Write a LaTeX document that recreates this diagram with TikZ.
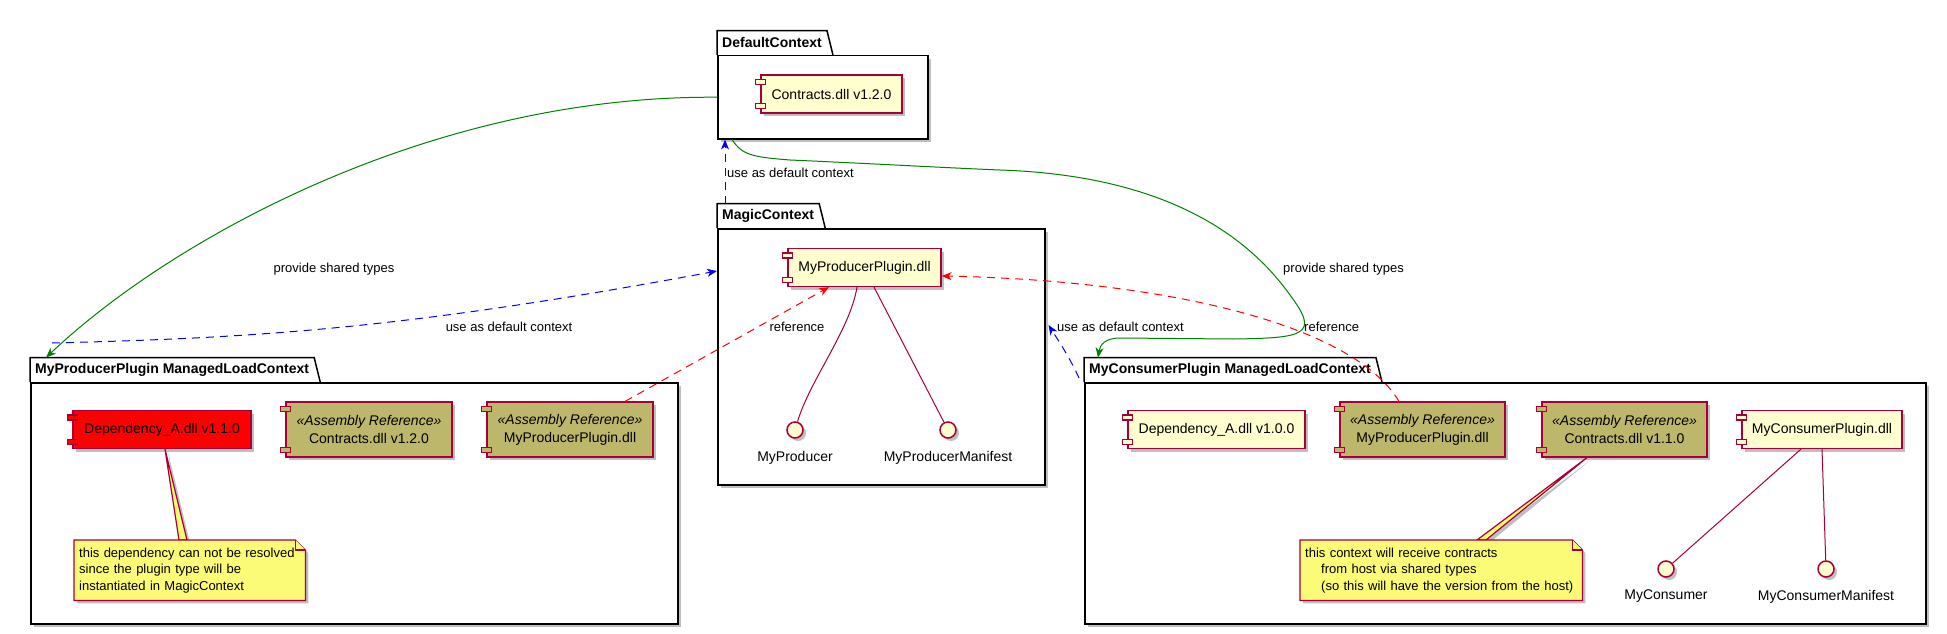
\documentclass[tikz,border=0pt]{standalone}
\usepackage{fontspec}
\setmainfont{Liberation Sans}
\usepackage{tikz}
\usetikzlibrary{arrows.meta,calc,positioning,shadows}
\definecolor{UMLred}{HTML}{A80036}
\definecolor{UMLfill}{HTML}{FEFECE}
\definecolor{ARkhaki}{HTML}{BDB76B}
\definecolor{NOTEyellow}{HTML}{FBFB77}
\definecolor{LINKgreen}{HTML}{008000}
\pgfdeclarelayer{front}
\pgfsetlayers{main,front}

\begin{document}
\begin{tikzpicture}[x=1pt,y=-1pt,>={Stealth[length=10pt,width=8pt,inset=3pt]},
  shadowed/.style={drop shadow={shadow xshift=3pt,shadow yshift=-3pt,opacity=0.25,fill=black}},
  pkg/.style={draw,line width=1.5pt,fill=white,anchor=north west,inner sep=0pt,shadowed},
  pkgtab/.style={anchor=south west,font=\bfseries\fontsize{14}{17}\selectfont,inner xsep=5pt,inner ysep=0pt,minimum height=24pt},
  comp/.style={draw=UMLred,fill=UMLfill,line width=1.2pt,minimum height=38pt,inner sep=0pt,font=\fontsize{14}{17}\selectfont,shadowed},
  asmref/.style={comp,fill=ARkhaki,minimum height=55pt,align=center,font=\fontsize{14}{18}\selectfont},
  port/.style={draw=UMLred,line width=1.2pt},
  iface/.style={circle,draw=UMLred,fill=UMLfill,line width=1.5pt,minimum size=16pt,inner sep=0pt,shadowed},
  ifacelbl/.style={font=\fontsize{14}{17}\selectfont,inner sep=0pt},
  note/.style={anchor=north west,align=left,inner xsep=5pt,minimum height=60pt,font=\fontsize{13}{16.5}\selectfont},
  notebox/.style={draw=UMLred,fill=NOTEyellow,line width=1.2pt},
  wire/.style={UMLred,line width=1pt},
  provide/.style={->,LINKgreen,line width=1pt},
  usectx/.style={->,blue,line width=1pt,dash pattern=on 8pt off 6pt},
  refline/.style={->,red,line width=1pt,dash pattern=on 8pt off 6pt},
  lbl/.style={font=\fontsize{13}{15}\selectfont,inner sep=0pt}]
  \useasboundingbox (0,0) rectangle (1947,634);

  \node[pkg,minimum width=210pt,minimum height=83pt] (pdef) at (717,55) {};
  \node[pkg,minimum width=327pt,minimum height=256pt] (pmagic) at (717,228) {};
  \node[pkg,minimum width=647pt,minimum height=241pt] (pprod) at (30,382) {};
  \node[pkg,minimum width=841pt,minimum height=241pt] (pcons) at (1084,382) {};
  \node[pkgtab] (pdef-tab) at (pdef.north west) {DefaultContext};
  \node[pkgtab] (pmagic-tab) at (pmagic.north west) {MagicContext};
  \node[pkgtab] (pprod-tab) at (pprod.north west) {MyProducerPlugin ManagedLoadContext};
  \node[pkgtab] (pcons-tab) at (pcons.north west) {MyConsumerPlugin ManagedLoadContext};
  \foreach \p in {pdef,pmagic,pprod,pcons}
    \draw[line width=1.5pt] (\p-tab.south west) |- (\p-tab.north east) -- ([xshift=6pt]\p-tab.south east);

  \node[comp,minimum width=141pt] (cdef) at (831.5,94) {Contracts.dll v1.2.0};
  \node[comp,minimum width=153pt] (cmpp) at (864.5,267.5) {MyProducerPlugin.dll};
  \node[comp,fill=red,minimum width=178pt] (depa) at (162,429.5) {Dependency\_A.dll v1.1.0};
  \node[asmref,minimum width=166pt] (arp1) at (369,429.5) {\textit{«Assembly Reference»}\\Contracts.dll v1.2.0};
  \node[asmref,minimum width=166pt] (arp2) at (570,429.5) {\textit{«Assembly Reference»}\\MyProducerPlugin.dll};
  \node[comp,minimum width=177pt] (depb) at (1216.5,429.5) {Dependency\_A.dll v1.0.0};
  \node[asmref,minimum width=165pt] (arc1) at (1422.5,429.5) {\textit{«Assembly Reference»}\\MyProducerPlugin.dll};
  \node[asmref,minimum width=165pt] (arc2) at (1624.5,429.5) {\textit{«Assembly Reference»}\\Contracts.dll v1.1.0};
  \node[comp,minimum width=160pt] (ccp) at (1822,429.5) {MyConsumerPlugin.dll};
  \foreach \c/\f in {cdef/UMLfill,cmpp/UMLfill,depa/red,arp1/ARkhaki,arp2/ARkhaki,depb/UMLfill,arc1/ARkhaki,arc2/ARkhaki,ccp/UMLfill}{
    \draw[port,fill=\f] ([shift={(-5pt,-5pt)}]\c.north west) rectangle ++(10,5);
    \draw[port,fill=\f] ([shift={(-5pt,5pt)}]\c.south west) rectangle ++(10,-5);
  }

  \node[iface] (iprod) at (795,430) {};
  \node[iface] (iman) at (948,430) {};
  \node[iface] (icons) at (1666,569) {};
  \node[iface] (icman) at (1826,569) {};
  \node[ifacelbl,below=12pt of iprod] (iprod-lbl) {MyProducer};
  \node[ifacelbl,below=12pt of iman] (iman-lbl) {MyProducerManifest};
  \node[ifacelbl,below=12pt of icons] (icons-lbl) {MyConsumer};
  \node[ifacelbl,below=12pt of icman] (icman-lbl) {MyConsumerManifest};
  \draw[wire] ([xshift=-7.5pt]cmpp.south) .. controls (850,330) and (810,380) .. (iprod);
  \draw[wire] ([xshift=9.5pt]cmpp.south) -- (iman);
  \draw[wire] ([xshift=-21pt]ccp.south) -- (icons);
  \draw[wire] (ccp.south) -- (icman);

  \begin{pgfonlayer}{front}
    \node[note,text width=221pt] (note1) at (74,540) {this dependency can not be resolved\\since the plugin type will be\\instantiated in MagicContext};
    \node[note,text width=272pt] (note2) at (1300,540) {this context will receive contracts\\\hspace*{16pt}from host via shared types\\\hspace*{16pt}(so this will have the version from the host)};
  \end{pgfonlayer}
  \draw[notebox,shadowed] ([xshift=3pt]depa.south) -- ([xshift=105pt]note1.north west) -- ([xshift=113pt]note1.north west) -- cycle;
  \draw[notebox,shadowed] ([xshift=-37.5pt]arc2.south) -- ([xshift=177pt]note2.north west) -- ([xshift=186pt]note2.north west) -- cycle;
  \foreach \n in {note1,note2}{
    \draw[notebox,shadowed] (\n.north west) -- ([xshift=-10pt]\n.north east) -- ([yshift=-10pt]\n.north east) -- (\n.south east) -- (\n.south west) -- cycle;
    \draw[notebox] ([xshift=-10pt]\n.north east) |- ([yshift=-10pt]\n.north east);
  }

  \coordinate (pprod-out) at (52,343);
  \coordinate (pcons-out) at (1079,378);
  \draw[provide] (pdef.west) .. controls (430,95) and (170,240) .. ([xshift=16pt]pprod-tab.north west);
  \draw[usectx] (pprod-out) .. controls (250,338) and (400,330) .. ([yshift=-43pt]pmagic.north west);
  \draw[usectx] ([xshift=8pt]pmagic-tab.north west) -- ([xshift=8pt]pdef.south west);
  \draw[provide] ([xshift=15pt]pdef.south west) .. controls (742,155) and (752,157) .. (790,160)
    .. controls (880,164) and (950,168) .. (1000,170) .. controls (1150,175) and (1240,225) .. (1290,295)
    .. controls (1320,335) and (1305,338) .. (1233,339) -- (1120,338)
    .. controls (1105,338) and (1100,345) .. ([xshift=14pt]pcons-tab.north west);
  \draw[usectx] (pcons-out) .. controls (1070,358) and (1058,340) .. ([shift={(3pt,-97pt)}]pmagic.north east);
  \draw[refline] ([xshift=55pt]arp2.north) -- ([xshift=-35.5pt]cmpp.south);
  \draw[refline] ([xshift=-23.5pt]arc1.north) .. controls (1350,320) and (1150,280) .. ([yshift=-8.5pt]cmpp.east);

  \node[lbl] (lprov1) at (334,269) {provide shared types};
  \node[lbl] (luse1) at (509,327) {use as default context};
  \node[lbl,anchor=west] (luse2) at (727,173) {use as default context};
  \node[lbl,anchor=west] (lprov2) at (1283,269) {provide shared types};
  \node[lbl,anchor=west] (luse3) at (1057,327) {use as default context};
  \node[lbl] (lref1) at (797,327) {reference};
  \node[lbl,anchor=west] (lref2) at (1304,327) {reference};
\end{tikzpicture}
\end{document}
